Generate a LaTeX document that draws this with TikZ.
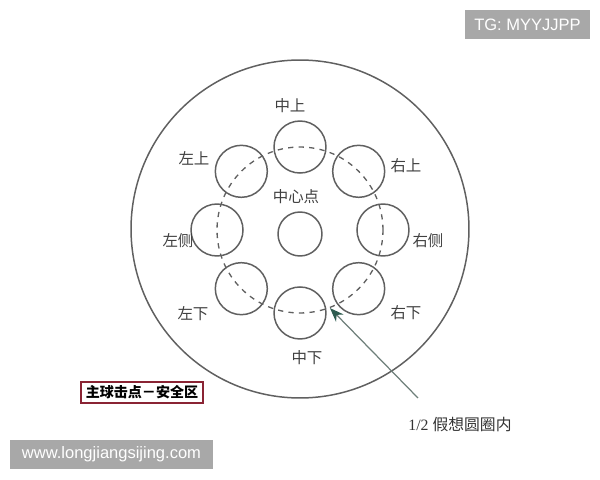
\documentclass[tikz,border=0pt]{standalone}
\usepackage{fontspec}
\setmainfont{Liberation Serif}
\newfontfamily\cjk{Noto Sans CJK SC}
\newfontfamily\wmfont{Liberation Sans}
\usetikzlibrary{calc,arrows.meta}

\definecolor{linegray}{HTML}{606060}
\definecolor{arrowgreen}{HTML}{6E7F7A}
\definecolor{tipgreen}{HTML}{2E5C50}
\definecolor{boxred}{HTML}{8A2434}
\definecolor{stampgray}{HTML}{A8A8A8}

\tikzset{
  ball/.style={circle, draw=linegray, line width=0.85pt,
    minimum size=1.04cm, inner sep=0pt},
  spot/.style={font=\cjk\fontsize{8.8}{8.8}\selectfont, text=black!75,
    inner sep=0pt},
  stamp/.style={fill=stampgray, text=white, inner sep=0pt,
    font=\wmfont\fontsize{9.4}{9.4}\selectfont},
}

\begin{document}
\begin{tikzpicture}[x=0.02cm, y=-0.02cm]
  \useasboundingbox (0,0) rectangle (600,480);

  % table and the guide ring
  \node (table) [circle, draw=linegray, line width=0.85pt,
  minimum size=6.76cm, inner sep=0pt] at (300,229) {};
  \node (ring) [circle, draw=linegray, dashed, line width=0.75pt,
  minimum size=3.32cm, inner sep=0pt] at (300,230) {};

  % eight cue-ball spots on the ring, plus the centre one
  \foreach \name/\ang in {midtop/90, righttop/45, rightside/0,
    rightlow/-45, midlow/-90, leftlow/-135, leftside/180, lefttop/135}
    \node (\name) [ball] at ($(300,230)+(\ang:1.66cm)$) {};
  \node (centre) [ball, minimum size=0.88cm] at (300,234) {};

  % spot names
  \node (lmidtop)    [spot] at (290,106) {中上};
  \node (llefttop)   [spot] at (194,158) {左上};
  \node (lrighttop)  [spot] at (406,166) {右上};
  \node (lcentre)    [spot] at (296,197) {中心点};
  \node (lleftside)  [spot] at (178,241) {左侧};
  \node (lrightside) [spot] at (428,241) {右侧};
  \node (lleftlow)   [spot] at (193,314) {左下};
  \node (lrightlow)  [spot] at (406,313) {右下};
  \node (lmidlow)    [spot] at (307,358) {中下};

  % pointer to the half ring
  \coordinate (tail) at (418,398);
  \draw [arrowgreen, line width=0.7pt,
  -{Stealth[length=8pt, width=6pt, tipgreen]}] (tail) -- (ring.-69);
  \node (note) [anchor=west, inner sep=0pt,
  font=\fontsize{9}{9}\selectfont, text=black!80] at (408,425)
  {1/2 {\cjk 假想圆圈内}};

  % caption box
  \node (caption) [draw=boxred, line width=1.1pt, minimum width=2.44cm,
  minimum height=0.42cm, inner sep=0pt,
  font=\cjk\bfseries\fontsize{8}{8}\selectfont] at (142,392.5)
  {主球击点－安全区};

  % watermarks
  \node (tag) [stamp, minimum width=2.5cm, minimum height=0.58cm]
  at (527.5,24.5) {TG: MYYJJPP};
  \node (site) [stamp, minimum width=4.06cm, minimum height=0.58cm]
  at (111.5,454.5) {www.longjiangsijing.com};
\end{tikzpicture}
\end{document}
